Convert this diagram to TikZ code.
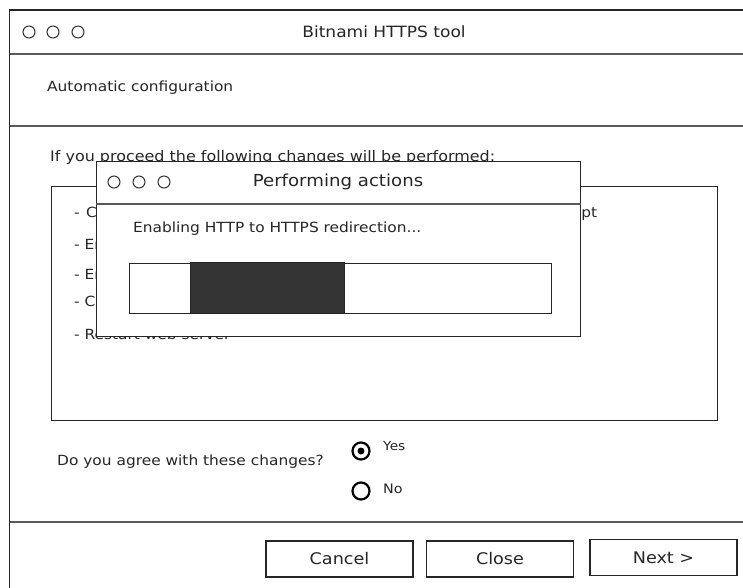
\documentclass[tikz,border=0pt]{standalone}
\usepackage{fontspec}
\setmainfont{DejaVu Sans}[FakeStretch=1.1]
\newcommand{\fsz}[1]{\fontsize{#1}{#1}\selectfont}
\begin{document}
\begin{tikzpicture}[x=1pt,y=-1pt,
  frame/.style={draw=black!85, line width=1.3pt},
  sep/.style={draw=black!65, line width=1.6pt},
  lbl/.style={inner sep=0pt, text=black!85},
  btn/.style={draw=black!85, line width=1.3pt, fill=white, minimum width=147pt,
    minimum height=36pt, inner sep=0pt, text=black!85, font=\fsz{16}},
  wdot/.style={circle, draw=black!80, line width=1pt, inner sep=0pt, minimum size=12pt},
  radio/.style={circle, draw=black, line width=2.2pt, inner sep=0pt, minimum size=17pt},
]
\useasboundingbox (0,0) rectangle (743,587);
\fill[white] (0,0) rectangle (743,587);
\clip (0,0) rectangle (743,587);

% main window
\draw[frame] (9.5,10) rectangle (775,605);
\draw[sep] (9.5,54) -- (743,54);
\draw[sep] (9.5,126) -- (743,126);
\draw[sep] (9.5,522) -- (743,522);
\node[wdot] (w1) at (29,32) {};
\node[wdot] (w2) at (53,32) {};
\node[wdot] (w3) at (78,32) {};
\node[lbl, font=\fsz{15.5}] (title) at (384,32) {Bitnami HTTPS tool};
\node[lbl, font=\fsz{14}, anchor=west] (heading) at (47,88) {Automatic configuration};

% list of changes
\node[lbl, font=\fsz{14.5}, anchor=west] (intro) at (50,157) {If you proceed the following changes will be performed:};
\node[frame, anchor=north west, minimum width=666pt, minimum height=234pt] (changes) at (51,186) {};
\node[lbl, font=\fsz{14}, anchor=west] (c1) at (74,214)
  {\makebox[523pt][s]{- Configure web server to use a free certificate from Let's Encrypt}};
\node[lbl, font=\fsz{14}, anchor=west] (c2) at (74,244) {- Enable HTTP to HTTPS redirection};
\node[lbl, font=\fsz{14}, anchor=west] (c3) at (74,274) {- Enable non-www to www redirection};
\node[lbl, font=\fsz{14}, anchor=west] (c4) at (74,303) {- Configure a cron job to renew the certificate};
\node[lbl, font=\fsz{14}, anchor=west] (c5) at (74,334) {- Restart web server};

% agreement question
\node[lbl, font=\fsz{14}, anchor=west] (question) at (57,462) {Do you agree with these changes?};
\node[radio] (yes) at (361,451) {};
\fill[black] (yes.center) circle (3.5);
\node[lbl, font=\fsz{12.5}, anchor=west] (yeslbl) at (383,446) {Yes};
\node[radio] (no) at (361,491) {};
\node[lbl, font=\fsz{13}, anchor=west] (nolbl) at (383,489) {No};

% buttons
\node[btn] (cancel) at (339.5,559) {Cancel};
\node[btn] (close) at (500,559) {Close};
\node[btn] (next) at (663.5,557.5) {Next >};

% progress dialog
\node[frame, fill=white, anchor=north west, minimum width=484pt, minimum height=175pt] (dialog) at (96,161) {};
\draw[sep] (dialog.north west |- 0,204) -- (dialog.north east |- 0,204);
\node[wdot] (d1) at (114,182) {};
\node[wdot] (d2) at (139,182) {};
\node[wdot] (d3) at (164,182) {};
\node[lbl, font=\fsz{16.5}] (dtitle) at (338,182) {Performing actions};
\node[lbl, font=\fsz{14}, anchor=west] (status) at (133,229) {Enabling HTTP to HTTPS redirection...};
\node[frame, anchor=north west, minimum width=422pt, minimum height=50pt] (bar) at (129,263) {};
\node[frame, fill=black!80, anchor=north west, minimum width=154pt, minimum height=51pt] (barfill) at (190,262) {};
\end{tikzpicture}
\end{document}
